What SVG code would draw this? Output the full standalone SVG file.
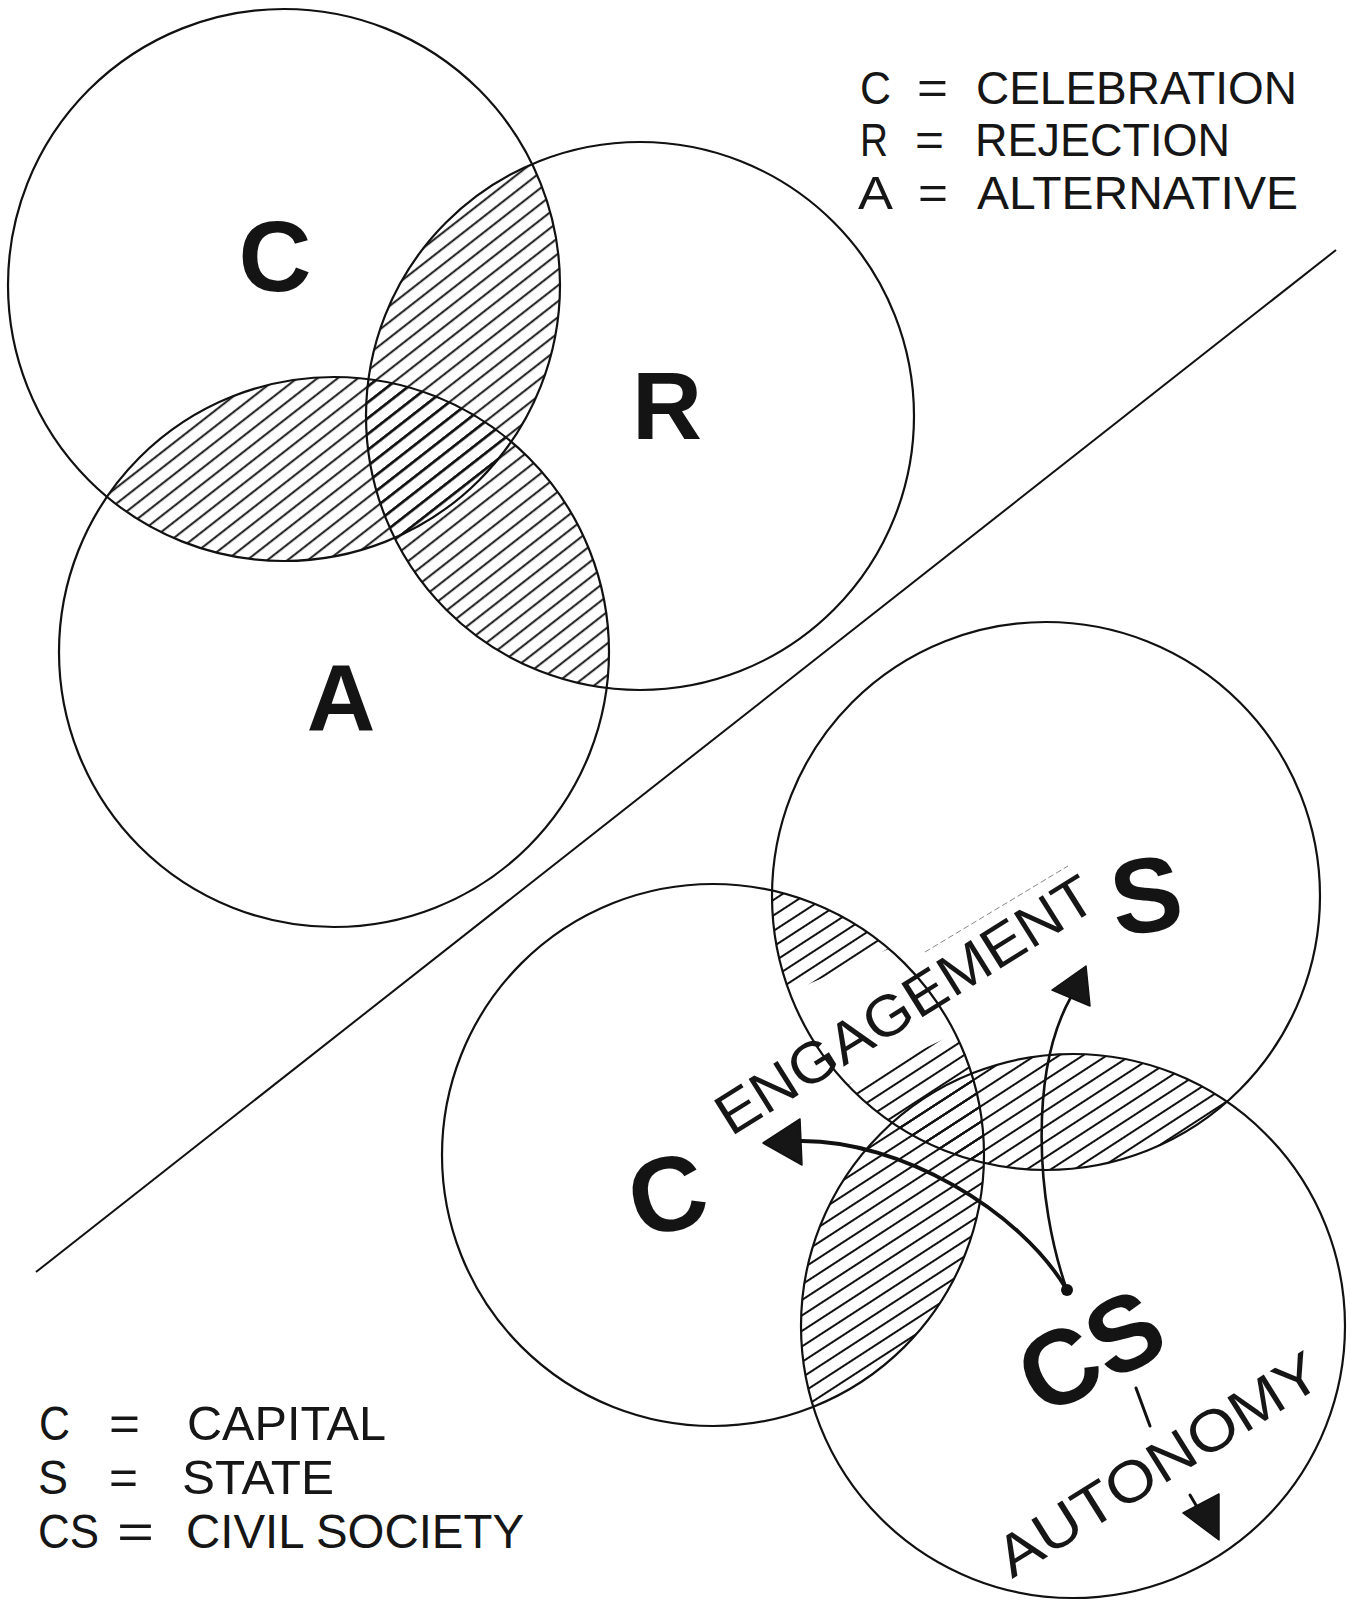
<svg xmlns="http://www.w3.org/2000/svg" width="1351" height="1602" viewBox="0 0 1351 1602">
<style>
.ring{fill:none;stroke:#111;stroke-width:2.2}
.big{font-family:"Liberation Sans",Arial,sans-serif;font-weight:bold;fill:#141414}
.leg{font-family:"Liberation Sans",Arial,sans-serif;font-size:46px;fill:#161616}
.legb{font-family:"Liberation Sans",Arial,sans-serif;font-size:48px;fill:#161616}
.lab{font-family:"Liberation Sans",Arial,sans-serif;font-size:58px;fill:#161616}
.conn{fill:none;stroke:#111;stroke-linecap:round}
.head{fill:#161616;stroke:#111;stroke-width:1.5;stroke-linejoin:round}
</style>
<defs>
<pattern id="hTop" patternUnits="userSpaceOnUse" width="40" height="12.5" patternTransform="rotate(-38)">
<line x1="0" y1="6" x2="40" y2="6" stroke="#111" stroke-width="2"/>
</pattern>
<pattern id="hBot" patternUnits="userSpaceOnUse" width="40" height="13" patternTransform="rotate(-33)">
<line x1="0" y1="6" x2="40" y2="6" stroke="#111" stroke-width="2"/>
</pattern>
<clipPath id="cpC1"><circle cx="284" cy="285" r="276"/></clipPath>
<clipPath id="cpR1"><circle cx="640" cy="416" r="274"/></clipPath>
<clipPath id="cpA1"><circle cx="334" cy="652" r="275"/></clipPath>
<clipPath id="cpS"><circle cx="1046" cy="896" r="274"/></clipPath>
<clipPath id="cpC2"><circle cx="713" cy="1155" r="271"/></clipPath>
<clipPath id="cpCS"><circle cx="1073" cy="1326" r="272"/></clipPath>
<clipPath id="cpL1"><polygon points="700,1032 1100,856 1100,780 700,780"/></clipPath>
<clipPath id="cpL2"><polygon points="780,1117 1100,965 1100,1300 780,1300"/></clipPath>
</defs>
<rect width="1351" height="1602" fill="#fff"/>

<g id="hatching">
<g clip-path="url(#cpC1)"><rect x="0" y="0" width="1000" height="1000" fill="url(#hTop)" clip-path="url(#cpR1)"/></g>
<g clip-path="url(#cpC1)"><rect x="0" y="0" width="1000" height="1000" fill="url(#hTop)" clip-path="url(#cpA1)"/></g>
<g clip-path="url(#cpR1)"><rect x="0" y="0" width="1000" height="1000" fill="url(#hTop)" clip-path="url(#cpA1)"/></g>
<g clip-path="url(#cpC2)"><g clip-path="url(#cpS)"><rect x="400" y="600" width="951" height="1002" fill="url(#hBot)" clip-path="url(#cpL1)"/></g></g>
<g clip-path="url(#cpC2)"><g clip-path="url(#cpS)"><rect x="400" y="600" width="951" height="1002" fill="url(#hBot)" clip-path="url(#cpL2)"/></g></g>
<g clip-path="url(#cpC2)"><rect x="400" y="600" width="951" height="1002" fill="url(#hBot)" clip-path="url(#cpCS)"/></g>
<g clip-path="url(#cpS)"><rect x="400" y="600" width="951" height="1002" fill="url(#hBot)" clip-path="url(#cpCS)"/></g>
</g>

<g id="divider">
<line x1="1336" y1="250" x2="36" y2="1272" stroke="#111" stroke-width="2"/>
</g>

<g id="node-celebration">
<circle class="ring" cx="284" cy="285" r="276"/>
<text class="big" x="275" y="291" font-size="101" text-anchor="middle">C</text>
</g>
<g id="node-rejection">
<circle class="ring" cx="640" cy="416" r="274"/>
<text class="big" x="667" y="439" font-size="97" text-anchor="middle">R</text>
</g>
<g id="node-alternative">
<circle class="ring" cx="334" cy="652" r="275"/>
<text class="big" x="341" y="731" font-size="95" text-anchor="middle">A</text>
</g>

<g id="node-state">
<circle class="ring" cx="1046" cy="896" r="274"/>
<text class="big" x="1146" y="932" font-size="106" text-anchor="middle" transform="rotate(-8 1146 894)">S</text>
</g>
<g id="node-capital">
<circle class="ring" cx="713" cy="1155" r="271"/>
<text class="big" x="667" y="1231" font-size="106" text-anchor="middle" transform="rotate(-14 667 1193)">C</text>
</g>
<g id="node-civil-society">
<circle class="ring" cx="1073" cy="1326" r="272"/>
<text class="big" x="1090" y="1388" font-size="106" text-anchor="middle" transform="rotate(-28 1090 1350)">CS</text>
</g>

<g id="connectors">
<path class="conn" d="M1067,1290 C1020,1210 900,1140 800,1141" stroke-width="3.8"/>
<polygon class="head" points="763,1143 800,1119 802,1165"/>
<path class="conn" d="M1067,1290 C1035,1200 1030,1070 1071,997" stroke-width="2.6"/>
<polygon class="head" points="1086,966 1052,990 1090,1006"/>
<circle cx="1067" cy="1290" r="6" fill="#111"/>
<line class="conn" x1="1136" y1="1388" x2="1150" y2="1426" stroke-width="3"/>
<line class="conn" x1="1190" y1="1495" x2="1200" y2="1512" stroke-width="3"/>
<polygon class="head" points="1183,1513 1219,1494 1219,1540"/>
</g>

<g id="labels">
<line x1="925" y1="952" x2="1068" y2="866" stroke="#888" stroke-width="1" stroke-dasharray="6 3"/>
<text class="lab" x="731" y="1137" textLength="435" lengthAdjust="spacingAndGlyphs" transform="rotate(-32 731 1137)">ENGAGEMENT</text>
<text class="lab" x="1012" y="1579" textLength="370" lengthAdjust="spacingAndGlyphs" transform="rotate(-32 1012 1579)">AUTONOMY</text>
</g>

<g id="legend-top">
<text class="leg" x="860" y="104" textLength="31" lengthAdjust="spacingAndGlyphs">C</text>
<text class="leg" x="917" y="104" textLength="31" lengthAdjust="spacingAndGlyphs">=</text>
<text class="leg" x="976" y="104" textLength="321" lengthAdjust="spacingAndGlyphs">CELEBRATION</text>
<text class="leg" x="860" y="156" textLength="28" lengthAdjust="spacingAndGlyphs">R</text>
<text class="leg" x="915" y="156" textLength="29" lengthAdjust="spacingAndGlyphs">=</text>
<text class="leg" x="975" y="156" textLength="255" lengthAdjust="spacingAndGlyphs">REJECTION</text>
<text class="leg" x="858" y="209" textLength="35" lengthAdjust="spacingAndGlyphs">A</text>
<text class="leg" x="918" y="209" textLength="30" lengthAdjust="spacingAndGlyphs">=</text>
<text class="leg" x="977" y="209" textLength="321" lengthAdjust="spacingAndGlyphs">ALTERNATIVE</text>
</g>

<g id="legend-bottom">
<text class="legb" x="39" y="1440" textLength="31" lengthAdjust="spacingAndGlyphs">C</text>
<text class="legb" x="109" y="1440" textLength="31" lengthAdjust="spacingAndGlyphs">=</text>
<text class="legb" x="187" y="1440" textLength="199" lengthAdjust="spacingAndGlyphs">CAPITAL</text>
<text class="legb" x="38" y="1494" textLength="30" lengthAdjust="spacingAndGlyphs">S</text>
<text class="legb" x="109" y="1494" textLength="29" lengthAdjust="spacingAndGlyphs">=</text>
<text class="legb" x="182" y="1494" textLength="152" lengthAdjust="spacingAndGlyphs">STATE</text>
<text class="legb" x="38" y="1548" textLength="61" lengthAdjust="spacingAndGlyphs">CS</text>
<text class="legb" x="117" y="1548" textLength="37" lengthAdjust="spacingAndGlyphs">=</text>
<text class="legb" x="186" y="1548" textLength="338" lengthAdjust="spacingAndGlyphs">CIVIL SOCIETY</text>
</g>
</svg>
